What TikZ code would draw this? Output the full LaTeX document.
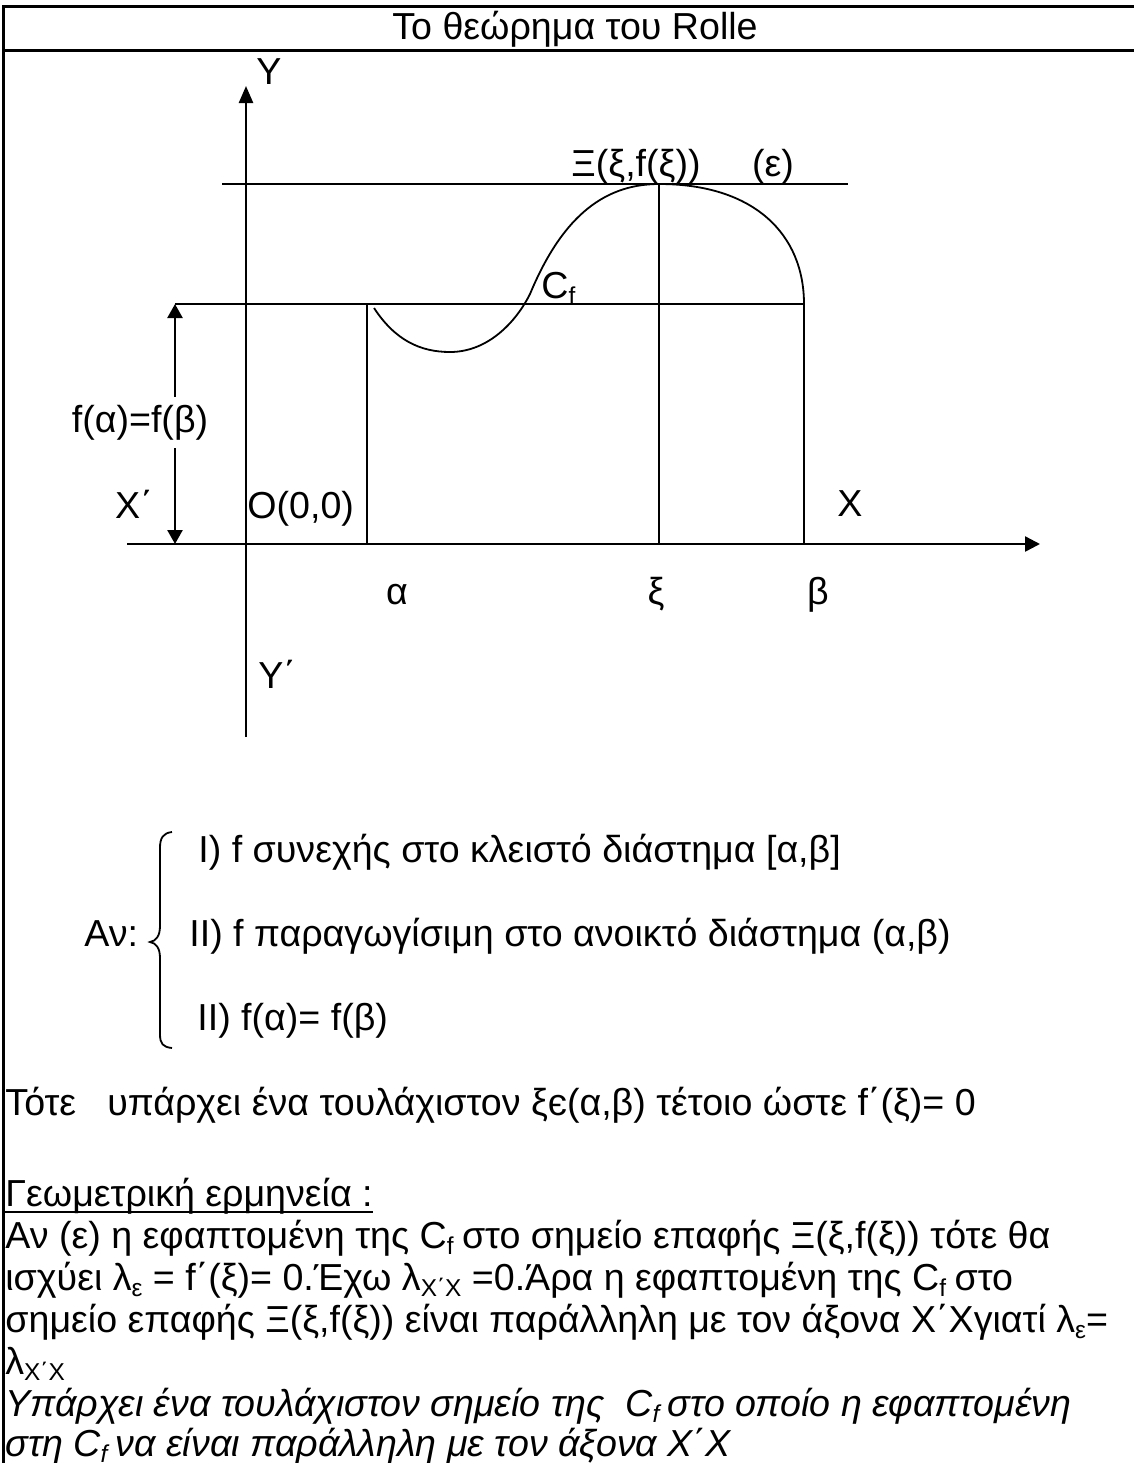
\documentclass[tikz,border=0pt]{standalone}
\usepackage{fontspec}
\setmainfont{Liberation Sans}
\usetikzlibrary{arrows.meta}
\newcommand\lowsub[1]{\raisebox{-3pt}{\fontsize{12.2}{12}\selectfont #1}}
\tikzset{
  ln/.style={line width=1.25pt},
  thinln/.style={line width=0.9pt},
  border/.style={line width=1.5pt},
  lab/.style={inner sep=0pt, anchor=base, font=\fontsize{18.8}{21}\selectfont},
  labw/.style={inner sep=0pt, anchor=base west, font=\fontsize{18.8}{21}\selectfont},
}
\begin{document}
\begin{tikzpicture}[x=0.5pt,y=-0.5pt]
\useasboundingbox (0,0) rectangle (1134,1463);
% frame
\coordinate (tl) at (3,6); \coordinate (tr) at (1134,6);
\coordinate (sl) at (3,50); \coordinate (sr) at (1134,50);
\coordinate (bl) at (3,1463);
\draw[border] (tr) -- (tl) -- (bl);
\draw[border] (sl) -- (sr);
\node[lab] (title) at (575,39) {Το θεώρημα του Rolle};
% axes
\coordinate (ybot) at (246,737); \coordinate (ytop) at (246,86);
\draw[ln,-{Triangle[width=7pt,length=8.5pt]}] (ybot) -- (ytop);
\coordinate (xl) at (127,544); \coordinate (xr) at (1040,544);
\draw[ln,-{Triangle[width=7.5pt,length=7.5pt]}] (xl) -- (xr);
% tangent and level line
\coordinate (tanl) at (222,184); \coordinate (tanr) at (848,184);
\draw[thinln] (tanl) -- (tanr);
\coordinate (fl) at (175,304); \coordinate (fr) at (804,304);
\draw[thinln] (fl) -- (fr);
% verticals
\coordinate (aT) at (367,304); \coordinate (aB) at (367,544);
\coordinate (xT) at (659,184); \coordinate (xB) at (659,544);
\coordinate (bT) at (804,304); \coordinate (bB) at (804,544);
\draw[thinln] (aT) -- (aB);
\draw[thinln] (xT) -- (xB);
\draw[thinln] (bT) -- (bB);
% double arrow
\coordinate (dT) at (175,304); \coordinate (dB) at (175,544);
\draw[ln,{Triangle[width=7.5pt,length=7pt]}-{Triangle[width=7.5pt,length=7pt]}] (dT) -- (dB);
\node[lab, fill=white, inner ysep=4pt] (fab) at (140,432) {f(α)=f(β)};
% curve
\draw[thinln] (374,308) .. controls (395,340) and (420,352) .. (450,352)
  .. controls (488,352) and (516,322) .. (530,294)
  .. controls (560,222) and (600,184) .. (659,184)
  .. controls (755,184) and (804,235) .. (804,304);
% labels
\node[labw] (Ylab) at (256,84) {Y};
\node[lab] (Xi) at (636,176) {Ξ(ξ,f(ξ))};
\node[lab] (eps) at (773,176) {(ε)};
\node[labw] (Cf) at (541,298) {C\lowsub{f}};
\node[lab] (Xp) at (134,518) {X΄};
\node[labw] (O) at (247,518) {O(0,0)};
\node[lab] (X) at (850,516) {X};
\node[lab] (alab) at (397,604) {α};
\node[lab] (xilab) at (656,604) {ξ};
\node[lab] (blab) at (818,604) {β};
\node[labw] (Yp) at (258,688) {Y΄};
% conditions
\node[labw] (an) at (84,946) {Αν:};
\draw[thinln] (172,832) .. controls (163,833) and (160,838) .. (160,848) -- (160,926)
  .. controls (160,936) and (156,941) .. (150,942)
  .. controls (156,943) and (160,948) .. (160,958) -- (160,1034)
  .. controls (160,1044) and (163,1047) .. (172,1048);
\node[labw] (c1) at (198,862) {Ι) f συνεχής στο κλειστό διάστημα [α,β]};
\node[labw] (c2) at (189,946) {ΙΙ) f παραγωγίσιμη στο ανοικτό διάστημα (α,β)};
\node[labw] (c3) at (197,1030) {ΙΙ) f(α)= f(β)};
\node[labw] (tote) at (5,1115) {Τότε\hspace{0.55em} υπάρχει ένα τουλάχιστον ξє(α,β) τέτοιο ώστε f΄(ξ)= 0};
\node[labw] (geo) at (5,1206) {Γεωμετρική ερμηνεία :};
\draw[line width=0.9pt] ([yshift=-2.8pt]geo.base west) -- ([yshift=-2.8pt]geo.base east);
\node[labw] (p1) at (5,1248) {Αν (ε) η εφαπτομένη της C\lowsub{f}\kern-1pt\ στο σημείο επαφής Ξ(ξ,f(ξ)) τότε θα};
\node[labw] (p2) at (5,1290) {ισχύει λ\lowsub{ε} = f΄(ξ)= 0.Έχω λ\lowsub{Χ΄Χ} =0.Άρα η εφαπτομένη της C\lowsub{f}\kern-1pt\ στο};
\node[labw] (p3) at (5,1332) {σημείο επαφής Ξ(ξ,f(ξ)) είναι παράλληλη με τον άξονα Χ΄Χγιατί λ\lowsub{ε}=};
\node[labw] (p4) at (5,1374) {λ\lowsub{Χ΄Χ}};
\node[labw] (p5) at (5,1416) {\itshape Υπάρχει ένα τουλάχιστον σημείο της\ \ C\lowsub{f}\kern-1pt\ στο οποίο η εφαπτομένη};
\node[labw] (p6) at (5,1456) {\itshape στη C\lowsub{f}\kern-1pt\ να είναι παράλληλη με τον άξονα Χ΄Χ};
\end{tikzpicture}
\end{document}
